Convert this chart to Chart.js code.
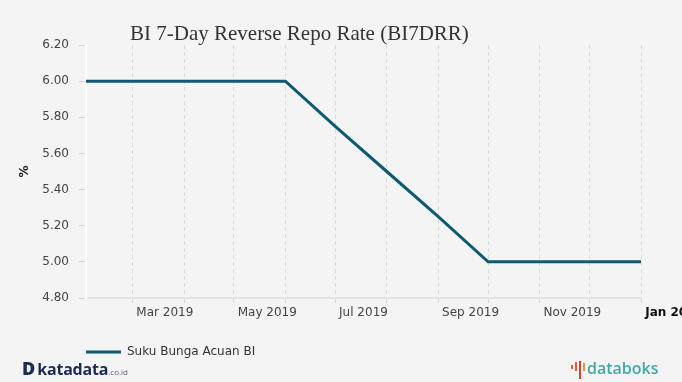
<!DOCTYPE html>
<html>
<head>
<meta charset="utf-8">
<script src="https://cdn.jsdelivr.net/npm/chart.js@4/dist/chart.umd.min.js"></script>
<style>
  html, body { margin: 0; padding: 0; background: #f4f4f4; }
  #wrap { position: relative; width: 682px; height: 382px; overflow: hidden; background: #f4f4f4; }
  #chart { position: absolute; left: 0; top: 0; }
  #title { position: absolute; left: 130px; top: 23px; line-height: 21px; font-family: "Liberation Serif", serif; font-size: 21px; color: #333; white-space: nowrap; }
  #kata { position: absolute; left: 22px; top: 358px; font-family: "Open Sans", sans-serif; color: #1b2a57; white-space: nowrap; line-height: 20px; }
  #kata .d { font-weight: 800; font-size: 18px; margin-right: 2px; }
  #kata .k { font-weight: 700; font-size: 16px; letter-spacing: -0.2px; }
  #kata .c { font-size: 8px; color: #5a6680; }
  #dbk { position: absolute; left: 571px; top: 358px; white-space: nowrap; line-height: 20px; }
  #dbk .bars { display: inline-block; position: relative; width: 15px; height: 18px; vertical-align: -5px; margin-right: 1px; }
  #dbk .bars i { position: absolute; width: 2px; background: #e8553f; }
  #dbk .t { font-family: "Open Sans", sans-serif; font-weight: 600; font-size: 16px; color: #44a6ab; }
</style>
</head>
<body>
<div id="wrap">
  <canvas id="chart" width="682" height="382"></canvas>
  <div id="title">BI 7-Day Reverse Repo Rate (BI7DRR)</div>
  <div id="kata"><span class="d">D</span><span class="k">katadata</span><span class="c">.co.id</span></div>
  <div id="dbk"><span class="bars"><i style="left:0;top:4px;height:4px"></i><i style="left:4px;top:1px;height:9px"></i><i style="left:8px;top:0;height:18px;background:#d9412f"></i><i style="left:12px;top:2px;height:8px;background:#f08a4b"></i></span><span class="t">databoks</span></div>
</div>
<script>
// ---- data ----
const dates = ['2019-02-01','2019-03-01','2019-04-01','2019-05-01','2019-06-01','2019-07-01',
               '2019-08-01','2019-09-01','2019-10-01','2019-11-01','2019-12-01','2020-01-01'];
const rates = [6.00, 6.00, 6.00, 6.00, 6.00, 5.75, 5.50, 5.25, 5.00, 5.00, 5.00, 5.00];
const seriesName = 'Suku Bunga Acuan BI';
const xTickDates = ['2019-03-01','2019-04-01','2019-05-01','2019-06-01','2019-07-01','2019-08-01',
                    '2019-09-01','2019-10-01','2019-11-01','2019-12-01','2020-01-01'];
const xTickLabels = ['Mar 2019','','May 2019','','Jul 2019','','Sep 2019','','Nov 2019','','Jan 2020'];
const yTickValues = [4.8, 5.0, 5.2, 5.4, 5.6, 5.8, 6.0, 6.2];
const yAxisTitle = '%';

const toMs = s => Date.parse(s + 'T00:00:00Z');
const points = dates.map((d, i) => ({x: toMs(d), y: rates[i]}));
const lineColor = '#0c5a72';
const isBoldTick = (ctx) => !!(ctx.tick && ctx.tick.label && ctx.tick.label.trim() === 'Jan 2020');

new Chart(document.getElementById('chart'), {
  type: 'line',
  data: {
    datasets: [{
      label: seriesName,
      data: points,
      borderColor: lineColor,
      backgroundColor: lineColor,
      borderWidth: 3,
      pointRadius: 0,
      pointHoverRadius: 0,
      tension: 0,
      fill: false
    }]
  },
  options: {
    responsive: false,
    animation: false,
    layout: { padding: { left: 0, right: 41, top: 45, bottom: 14 } },
    plugins: {
      tooltip: { enabled: false },
      title: { display: false },
      legend: {
        display: true,
        position: 'bottom',
        align: 'start',
        fullSize: false,
        labels: {
          boxWidth: 35,
          boxHeight: 3,
          padding: 0,
          color: '#333',
          font: { family: 'DejaVu Sans', size: 12 },
          generateLabels: (chart) => chart.data.datasets.map((ds, i) => ({
            text: ds.label, fillStyle: ds.borderColor, strokeStyle: ds.borderColor,
            lineWidth: 0, hidden: false, datasetIndex: i, fontColor: '#333'
          }))
        }
      }
    },
    scales: {
      x: {
        type: 'linear',
        min: toMs(dates[0]),
        max: toMs(dates[dates.length - 1]),
        afterBuildTicks: (scale) => { scale.ticks = xTickDates.map(d => ({value: toMs(d)})); },
        afterFit: (scale) => { scale.height = 48; scale.paddingLeft = 0; scale.paddingRight = 0; },
        grid: {
          display: true,
          drawOnChartArea: true,
          drawTicks: true,
          tickLength: 5,
          color: '#dadada',
          lineWidth: 1,
          tickColor: '#d6d6d6'
        },
        border: { display: true, color: '#e3e3e3', width: 2, dash: [4, 3] },
        ticks: {
          autoSkip: false,
          maxRotation: 0,
          minRotation: 0,
          align: 'start',
          padding: 3,
          color: (ctx) => isBoldTick(ctx) ? '#111' : '#444',
          font: (ctx) => ({ family: 'DejaVu Sans', size: 12, weight: isBoldTick(ctx) ? 'bold' : 'normal' }),
          callback: (value, index) => xTickLabels[index] ? ' ' + xTickLabels[index] : ''
        }
      },
      y: {
        type: 'linear',
        min: yTickValues[0],
        max: yTickValues[yTickValues.length - 1],
        afterBuildTicks: (scale) => { scale.ticks = yTickValues.map(v => ({value: v})); },
        afterFit: (scale) => { scale.width = 86; scale.paddingTop = 0; scale.paddingBottom = 0; },
        grid: {
          display: true,
          drawOnChartArea: false,
          drawTicks: true,
          tickLength: 7,
          tickColor: '#d4d4d4',
          color: '#d4d4d4'
        },
        border: { display: true, color: '#ffffff', width: 2 },
        ticks: {
          padding: 10,
          color: '#444',
          font: { family: 'DejaVu Sans', size: 12 },
          callback: (v) => Number(v).toFixed(2)
        },
        title: {
          display: true,
          text: yAxisTitle,
          color: '#222',
          font: { family: 'DejaVu Sans', size: 12, weight: 'bold' },
          padding: { top: 18, bottom: 0 }
        }
      }
    }
  }
});
</script>
</body>
</html>
